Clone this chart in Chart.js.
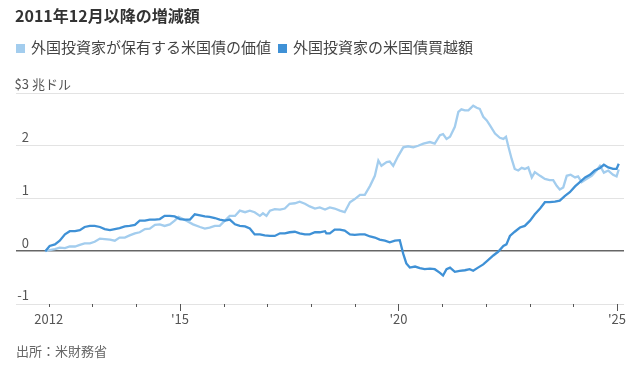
<!DOCTYPE html>
<html>
<head>
<meta charset="utf-8">
<script src="https://cdn.jsdelivr.net/npm/chart.js@4.4.1/dist/chart.umd.min.js"></script>
<style>
body{margin:0;background:#fff;font-family:"Noto Sans CJK JP",sans-serif;}
#wrap{position:relative;width:640px;height:372px;}
#title{position:absolute;left:15px;top:3px;font-size:16px;font-weight:bold;color:#333;white-space:nowrap;}
#legend{position:absolute;left:16px;top:36px;font-size:15px;color:#444;white-space:nowrap;}
.sw{display:inline-block;width:9px;height:9px;margin-right:6px;vertical-align:0px;}
.item{margin-right:7px;}
#source{position:absolute;left:16px;top:341px;font-size:13px;color:#666;}
canvas{position:absolute;left:0;top:0;}
</style>
</head>
<body>
<div id="wrap">
<canvas id="canvas" width="640" height="372"></canvas>
<div id="title">2011年12月以降の増減額</div>
<div id="legend"></div>
<div id="source">出所：米財務省</div>
</div>
<script>
// series names and colours
var seriesNames = ['外国投資家が保有する米国債の価値', '外国投資家の米国債買越額'];
var seriesColors = ['#a3cdee', '#3f91d6'];

// value of foreign holdings (trillion $, change since Dec 2011)
var holdYears = [2011.92,2012.02,2012.14,2012.25,2012.37,2012.48,2012.60,2012.71,2012.82,2012.94,
  2013.05,2013.17,2013.28,2013.40,2013.51,2013.62,2013.74,2013.85,2013.97,2014.08,
  2014.20,2014.31,2014.43,2014.54,2014.65,2014.77,2014.88,2014.97,2015.07,2015.19,
  2015.30,2015.46,2015.57,2015.68,2015.80,2015.91,2016.03,2016.14,2016.26,2016.37,
  2016.49,2016.60,2016.71,2016.83,2016.90,2016.98,2017.06,2017.17,2017.29,2017.40,
  2017.51,2017.63,2017.74,2017.86,2017.97,2018.09,2018.20,2018.32,2018.43,2018.54,
  2018.66,2018.77,2018.89,2019.00,2019.12,2019.23,2019.35,2019.46,2019.54,2019.61,
  2019.73,2019.80,2019.88,2019.99,2020.11,2020.22,2020.34,2020.45,2020.57,2020.72,
  2020.83,2020.95,2021.02,2021.10,2021.18,2021.29,2021.37,2021.44,2021.52,2021.60,
  2021.71,2021.79,2021.86,2021.94,2022.02,2022.09,2022.21,2022.32,2022.40,2022.46,
  2022.51,2022.59,2022.66,2022.74,2022.82,2022.89,2022.97,2023.05,2023.12,2023.24,
  2023.35,2023.46,2023.54,2023.62,2023.69,2023.77,2023.85,2023.94,2024.04,2024.11,
  2024.19,2024.30,2024.42,2024.53,2024.61,2024.70,2024.80,2024.91,2024.99,2025.04];
var holdValues = [0,0.02,0.04,0.07,0.06,0.09,0.09,0.12,0.15,0.15,
  0.18,0.24,0.23,0.22,0.20,0.26,0.26,0.30,0.34,0.36,
  0.42,0.43,0.50,0.51,0.48,0.51,0.58,0.65,0.61,0.56,
  0.51,0.46,0.43,0.45,0.48,0.48,0.58,0.67,0.67,0.77,
  0.74,0.77,0.74,0.67,0.72,0.67,0.77,0.80,0.79,0.81,
  0.90,0.91,0.94,0.90,0.85,0.81,0.83,0.79,0.83,0.81,
  0.77,0.74,0.93,0.99,1.07,1.07,1.24,1.43,1.72,1.62,
  1.69,1.70,1.62,1.80,1.97,1.99,1.97,2.00,2.04,2.07,
  2.04,2.20,2.22,2.13,2.17,2.36,2.64,2.69,2.67,2.67,
  2.76,2.72,2.70,2.55,2.48,2.39,2.23,2.15,2.13,2.17,
  2.00,1.75,1.56,1.53,1.58,1.56,1.59,1.40,1.50,1.43,
  1.37,1.35,1.35,1.24,1.17,1.21,1.43,1.45,1.40,1.42,
  1.31,1.37,1.43,1.53,1.62,1.49,1.53,1.45,1.42,1.55];

// cumulative net purchases by foreign investors (trillion $)
var buyYears = [2011.92,2012.02,2012.14,2012.25,2012.37,2012.48,2012.60,2012.71,2012.82,2012.94,
  2013.05,2013.17,2013.28,2013.40,2013.51,2013.62,2013.74,2013.85,2013.97,2014.08,
  2014.20,2014.31,2014.43,2014.54,2014.65,2014.77,2014.88,2015.00,2015.11,2015.23,
  2015.34,2015.46,2015.57,2015.68,2015.80,2015.91,2016.03,2016.14,2016.26,2016.37,
  2016.49,2016.60,2016.71,2016.83,2016.94,2017.06,2017.17,2017.29,2017.40,2017.51,
  2017.63,2017.74,2017.86,2017.97,2018.09,2018.20,2018.32,2018.35,2018.43,2018.54,
  2018.66,2018.77,2018.89,2019.00,2019.12,2019.23,2019.35,2019.46,2019.57,2019.69,
  2019.80,2019.92,2020.03,2020.11,2020.18,2020.26,2020.38,2020.49,2020.60,2020.72,
  2020.83,2020.95,2021.02,2021.10,2021.18,2021.29,2021.40,2021.52,2021.63,2021.71,
  2021.82,2021.94,2022.05,2022.17,2022.28,2022.40,2022.47,2022.55,2022.66,2022.78,
  2022.89,2023.01,2023.12,2023.24,2023.35,2023.46,2023.58,2023.69,2023.81,2023.92,
  2024.04,2024.15,2024.27,2024.38,2024.49,2024.61,2024.70,2024.80,2024.91,2024.99,2025.04];
var buyValues = [0,0.10,0.13,0.20,0.32,0.38,0.38,0.40,0.46,0.48,
  0.48,0.46,0.42,0.40,0.42,0.44,0.47,0.48,0.50,0.58,
  0.58,0.60,0.60,0.61,0.67,0.67,0.66,0.61,0.60,0.60,
  0.70,0.68,0.66,0.65,0.63,0.60,0.58,0.60,0.51,0.48,
  0.47,0.43,0.32,0.32,0.30,0.29,0.29,0.34,0.34,0.36,
  0.37,0.34,0.32,0.32,0.36,0.36,0.38,0.34,0.34,0.41,
  0.41,0.39,0.32,0.31,0.32,0.32,0.28,0.26,0.22,0.20,
  0.17,0.20,0.21,-0.05,-0.23,-0.31,-0.29,-0.32,-0.34,-0.33,
  -0.34,-0.41,-0.46,-0.34,-0.31,-0.39,-0.37,-0.36,-0.34,-0.37,
  -0.31,-0.25,-0.17,-0.08,-0.01,0.10,0.13,0.29,0.37,0.45,
  0.48,0.58,0.70,0.81,0.93,0.93,0.94,0.96,1.05,1.12,
  1.23,1.31,1.40,1.45,1.53,1.58,1.64,1.59,1.56,1.56,1.66];

// axes
var yTicks = [-1, 0, 1, 2, 3];
var yTopPrefix = '$';
var yTopUnit = ' 兆ドル';
var xTickYears = [2012,2013,2014,2015,2016,2017,2018,2019,2020,2021,2022,2023,2024,2025];
var xMajorYears = [2015, 2020, 2025];
var xTickLabels = {2012: '2012', 2015: "'15", 2020: "'20", 2025: "'25"};

// legend
var legendEl = document.getElementById('legend');
seriesNames.forEach(function(name, i){
  var s = document.createElement('span');
  s.className = 'item';
  s.innerHTML = '<span class="sw" style="background:' + seriesColors[i] + '"></span>' + name;
  legendEl.appendChild(s);
});

function toPoints(xs, ys){
  return xs.map(function(x, i){ return {x: x, y: ys[i]}; });
}

const FONT = '"Noto Sans CJK JP", sans-serif';

const yLabelPlugin = {
  id: 'yLabels',
  afterDraw(chart){
    const ctx = chart.ctx, y = chart.scales.y;
    const right = 29;
    ctx.save();
    ctx.font = '13px ' + FONT;
    ctx.fillStyle = '#555';
    ctx.textBaseline = 'bottom';
    y.ticks.forEach(function(t){
      const py = y.getPixelForValue(t.value) - 2;
      const label = String(t.value);
      ctx.textAlign = 'right';
      ctx.fillText(label, right, py);
      if (t.value === yTicks[yTicks.length - 1]) {
        const w = ctx.measureText(label).width;
        ctx.fillText(yTopPrefix, right - w, py);
        ctx.textAlign = 'left';
        ctx.fillText(yTopUnit, right, py);
      }
    });
    ctx.restore();
  }
};

const xTickMarks = {
  id: 'xTickMarks',
  afterDraw(chart){
    const ctx = chart.ctx, x = chart.scales.x, b = chart.chartArea.bottom;
    ctx.save();
    ctx.strokeStyle = '#555';
    ctx.lineWidth = 1;
    x.ticks.forEach(function(t){
      const px = Math.round(x.getPixelForValue(t.value)) + 0.5;
      const len = xMajorYears.indexOf(t.value) >= 0 ? 7 : 3;
      ctx.beginPath();
      ctx.moveTo(px, b);
      ctx.lineTo(px, b + len);
      ctx.stroke();
    });
    ctx.restore();
  }
};

const ctx = document.getElementById('canvas');
const myChart = new Chart(ctx, {
  type: 'line',
  data: {
    datasets: [{
      label: seriesNames[1],
      data: toPoints(buyYears, buyValues),
      borderColor: seriesColors[1],
      backgroundColor: 'transparent',
      borderWidth: 2.3,
      pointRadius: 0,
      tension: 0,
      order: 1
    }, {
      label: seriesNames[0],
      data: toPoints(holdYears, holdValues),
      borderColor: seriesColors[0],
      backgroundColor: 'transparent',
      borderWidth: 2.3,
      pointRadius: 0,
      tension: 0,
      order: 2
    }]
  },
  options: {
    responsive: false,
    animation: false,
    events: [],
    layout: { padding: { left: 16, right: 16, top: 93, bottom: 0 } },
    plugins: { legend: { display: false }, title: { display: false }, tooltip: { enabled: false } },
    scales: {
      x: {
        type: 'linear',
        min: 2011.25,
        max: 2025.16,
        afterBuildTicks: function(s){ s.ticks = xTickYears.map(function(v){ return {value: v}; }); },
        afterFit: function(s){ s.height = 68; },
        grid: { display: false, drawTicks: false },
        border: { display: false },
        ticks: {
          autoSkip: false,
          maxRotation: 0,
          padding: 7,
          color: '#555',
          font: { family: FONT, size: 13 },
          callback: function(v){ return xTickLabels[v] || ''; }
        }
      },
      y: {
        min: -1,
        max: 3,
        afterBuildTicks: function(s){ s.ticks = yTicks.map(function(v){ return {value: v}; }); },
        afterFit: function(s){ s.width = 0; },
        border: { display: false },
        grid: {
          drawTicks: false,
          color: function(c){ return c.tick && c.tick.value === 0 ? '#666' : '#e3e3e3'; },
          lineWidth: function(c){ return c.tick && c.tick.value === 0 ? 1.6 : 1; }
        },
        ticks: { display: false }
      }
    }
  },
  plugins: [yLabelPlugin, xTickMarks]
});
</script>
</body>
</html>
